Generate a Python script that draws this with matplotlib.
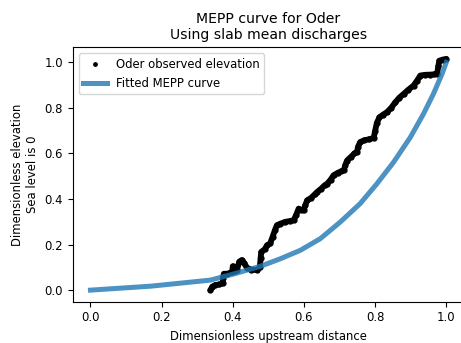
import matplotlib.pyplot as plt

# observed elevation profile
obs_x = [0.337, 0.342, 0.350, 0.362, 0.372, 0.372, 0.375, 0.385, 0.398, 0.400,
         0.405, 0.412, 0.418, 0.425, 0.432, 0.440, 0.452, 0.468, 0.476, 0.478,
         0.480, 0.490, 0.496, 0.505, 0.512, 0.518, 0.524, 0.534, 0.548, 0.560,
         0.571, 0.578, 0.585, 0.592, 0.599, 0.604, 0.609, 0.620, 0.630, 0.637,
         0.648, 0.658, 0.665, 0.675, 0.683, 0.695, 0.705, 0.712, 0.716, 0.721,
         0.732, 0.742, 0.749, 0.752, 0.758, 0.770, 0.782, 0.796, 0.800, 0.805,
         0.812, 0.822, 0.833, 0.845, 0.857, 0.868, 0.880, 0.892, 0.908, 0.918,
         0.927, 0.940, 0.955, 0.965, 0.974, 0.978, 0.980, 0.990, 1.000]
obs_y = [0.000, 0.015, 0.022, 0.025, 0.030, 0.055, 0.072, 0.072, 0.080, 0.105,
         0.085, 0.090, 0.125, 0.132, 0.118, 0.098, 0.090, 0.088, 0.100, 0.140,
         0.168, 0.180, 0.197, 0.205, 0.235, 0.262, 0.285, 0.292, 0.300, 0.303,
         0.307, 0.330, 0.358, 0.352, 0.350, 0.375, 0.394, 0.405, 0.420, 0.431,
         0.445, 0.460, 0.467, 0.485, 0.504, 0.515, 0.522, 0.526, 0.548, 0.569,
         0.585, 0.600, 0.606, 0.630, 0.650, 0.658, 0.662, 0.668, 0.700, 0.735,
         0.758, 0.770, 0.781, 0.800, 0.825, 0.845, 0.861, 0.878, 0.898, 0.920,
         0.942, 0.945, 0.946, 0.947, 0.949, 0.985, 1.007, 1.012, 1.015]

# fitted MEPP curve
fit_x = [0.0, 0.17, 0.337, 0.40, 0.478, 0.534, 0.59, 0.646, 0.702, 0.758,
         0.805, 0.852, 0.899, 0.936, 0.964, 0.988, 1.0]
fit_y = [0.0, 0.0175, 0.044, 0.07, 0.105, 0.138, 0.175, 0.226, 0.299, 0.38,
         0.467, 0.562, 0.671, 0.774, 0.862, 0.949, 1.0]

plt.rcParams['font.size'] = 8.4

fig = plt.figure(figsize=(4.61, 3.43), dpi=100)
ax = fig.add_axes([0.1577, 0.1204, 0.849, 0.7416])

ax.plot(obs_x, obs_y, color='black', lw=4.2, solid_joinstyle='round',
        solid_capstyle='round')
ax.plot(obs_x, obs_y, 'k.', markersize=7, label='Oder observed elevation')
ax.plot(fit_x, fit_y, color='tab:blue', lw=3.6, alpha=0.8, label='Fitted MEPP curve')

ax.set_title('MEPP curve for Oder\nUsing slab mean discharges')
ax.set_xlabel('Dimensionless upstream distance')
ax.set_ylabel('Dimensionless elevation\nSea level is 0')
ax.legend(loc='upper left', markerscale=0.7)

fig.savefig('out.png', dpi=100)
